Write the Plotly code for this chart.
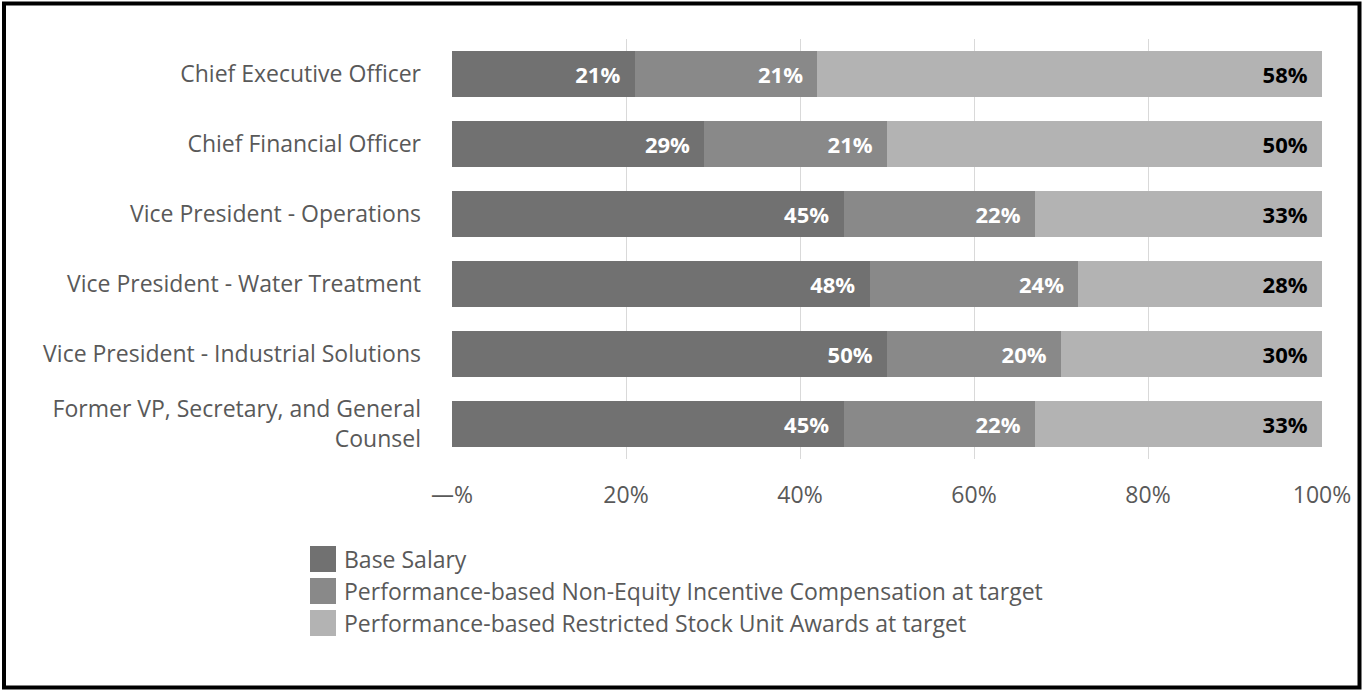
import plotly.graph_objects as go

categories = [
    "Chief Executive Officer",
    "Chief Financial Officer",
    "Vice President - Operations",
    "Vice President - Water Treatment",
    "Vice President - Industrial Solutions",
    "Former VP, Secretary, and General<br>Counsel",
]
series_names = [
    "Base Salary",
    "Performance-based Non-Equity Incentive Compensation at target",
    "Performance-based Restricted Stock Unit Awards at target",
]
base_salary = [21, 29, 45, 48, 50, 45]
non_equity = [21, 21, 22, 24, 20, 22]
rsu = [58, 50, 33, 28, 30, 33]
tick_vals = [0, 20, 40, 60, 80, 100]
tick_text = ["\u2014%", "20%", "40%", "60%", "80%", "100%"]

colors = ["#717171", "#898989", "#b3b3b3"]
label_colors = ["#ffffff", "#ffffff", "#000000"]
FONT = "Open Sans"
FS = 23
W, H = 1362, 690
L, R, T, B = 452, 40, 39, 231
pw, ph = W - L - R, H - T - B

def px_x(p):
    return (p - L) / pw

def px_y(p):
    return (H - B - p) / ph

fig = go.Figure()
for name, vals, col, lc in zip(series_names, [base_salary, non_equity, rsu], colors, label_colors):
    fig.add_trace(go.Bar(
        y=categories, x=vals, name=name, orientation="h",
        marker=dict(color=col, line=dict(width=0)),
        text=[f"{v}%\u00a0\u00a0" for v in vals],
        textposition="inside", insidetextanchor="end",
        textfont=dict(family=FONT, size=22, color=lc, weight="bold"),
        textangle=0, showlegend=False,
    ))

fig.update_layout(
    width=W, height=H, barmode="stack", bargap=0.33,
    margin=dict(l=L, r=R, t=T, b=B, pad=0),
    paper_bgcolor="white", plot_bgcolor="white",
    font=dict(family=FONT, size=FS, color="#595959"),
    xaxis=dict(range=[0, 100], tickvals=tick_vals, ticktext=tick_text,
               showgrid=True, gridcolor="#d9d9d9", gridwidth=1,
               zeroline=False, showline=False, ticks="",
               ticklabelstandoff=20, fixedrange=True),
    yaxis=dict(autorange="reversed", showgrid=False, showline=False,
               ticks="", ticklabelstandoff=30, fixedrange=True),
)

# legend drawn manually with 26px squares
legend_tops = [546, 578, 610]
for name, col, top in zip(series_names, colors, legend_tops):
    fig.add_shape(type="rect", xref="paper", yref="paper",
                  x0=px_x(310), x1=px_x(336), y0=px_y(top + 26), y1=px_y(top),
                  fillcolor=col, line=dict(width=0))
    fig.add_annotation(xref="paper", yref="paper", x=px_x(342), y=px_y(top + 13),
                       text=name, showarrow=False, xanchor="left", yanchor="middle",
                       font=dict(family=FONT, size=FS, color="#595959"))

# outer border
fig.add_shape(type="rect", xref="paper", yref="paper",
              x0=px_x(4), x1=px_x(1359.5), y0=px_y(687.5), y1=px_y(3.5),
              line=dict(color="black", width=4), fillcolor="rgba(0,0,0,0)", layer="above")

fig.write_html("out.html", config={"displayModeBar": False})
